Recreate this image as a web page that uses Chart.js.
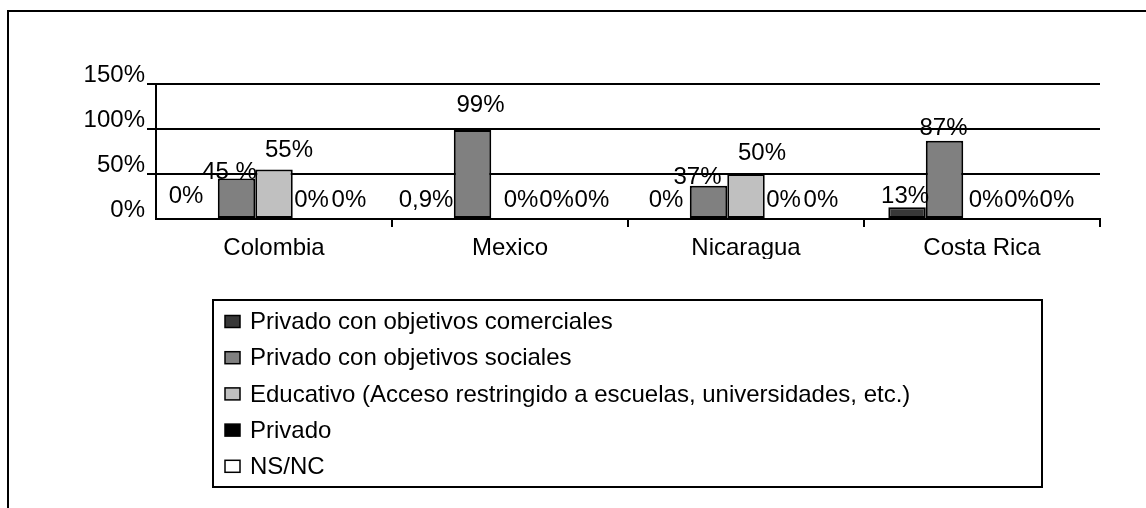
<!DOCTYPE html>
<html>
<head>
<meta charset="utf-8">
<script src="https://cdn.jsdelivr.net/npm/chart.js@4.4.1/dist/chart.umd.min.js"></script>
<style>
  html, body { margin: 0; padding: 0; background: #fff; }
  #wrap { width: 1146px; height: 508px; }
</style>
</head>
<body>
<div id="wrap"><canvas id="chart" width="1146" height="508"></canvas></div>
<script>
// categories and ticks
const countries = ['Colombia', 'Mexico', 'Nicaragua', 'Costa Rica'];
const yTicks = [0, 50, 100, 150];

// series (percent)
const seriesNames = [
    'Privado con objetivos comerciales',
    'Privado con objetivos sociales',
    'Educativo (Acceso restringido a escuelas, universidades, etc.)',
    'Privado',
    'NS/NC'
];
const comerciales = [0, 0.9, 0, 13];
const sociales    = [45, 99, 37, 87];
const educativo   = [55, 0, 50, 0];
const privado     = [0, 0, 0, 0];
const nsnc        = [0, 0, 0, 0];

// value labels as printed on the chart
const textComerciales = ['0%', '0,9%', '0%', '13%'];
const textSociales    = ['45 %', '99%', '37%', '87%'];
const textEducativo   = ['55%', '0%', '50%', '0%'];
const textPrivado     = ['0%', '0%', '0%', '0%'];
const textNsnc        = ['0%', '0%', '0%', '0%'];

const seriesColors = ['#383838', '#808080', '#c0c0c0', '#000000', '#ffffff'];

// hand-placed label nudges [dx, dy] keyed "category-series" (default [0, -12])
const labelNudge = {
    '0-0': [-13, -16], '0-1': [-7, 0],   '0-2': [15, -13],
    '1-0': [-9, -11],  '1-1': [8, -18],  '1-2': [11, -12], '1-3': [9, -12], '1-4': [7, -12],
    '2-0': [-5, -12],  '2-1': [-11, -2], '2-2': [16, -14],
    '3-0': [-2, -4],   '3-1': [-1, -6],  '3-2': [4, -12],  '3-3': [2, -12]
};

const FONT = "'Liberation Sans', Arial, sans-serif";
const SIZE = 24;

const values = [comerciales, sociales, educativo, privado, nsnc];
const texts  = [textComerciales, textSociales, textEducativo, textPrivado, textNsnc];

const frame = {
    id: 'frame',
    beforeDraw(chart) {
        const ctx = chart.ctx;
        ctx.save();
        ctx.fillStyle = '#fff';
        ctx.fillRect(0, 0, chart.width, chart.height);
        ctx.strokeStyle = '#000';
        ctx.lineWidth = 2;
        ctx.beginPath();
        ctx.moveTo(8, chart.height + 2);
        ctx.lineTo(8, 11);
        ctx.lineTo(chart.width + 2, 11);
        ctx.stroke();
        ctx.restore();
    }
};

const barLabels = {
    id: 'barLabels',
    afterDatasetsDraw(chart) {
        const ctx = chart.ctx;
        ctx.save();
        ctx.font = SIZE + 'px ' + FONT;
        ctx.fillStyle = '#000';
        ctx.textAlign = 'center';
        ctx.textBaseline = 'alphabetic';
        chart.data.datasets.forEach((ds, si) => {
            chart.getDatasetMeta(si).data.forEach((bar, ci) => {
                const n = labelNudge[ci + '-' + si] || [0, -12];
                ctx.fillText(ds.labelText[ci], bar.x + n[0], bar.y + n[1]);
            });
        });
        ctx.restore();
    }
};

const boxLegend = {
    id: 'boxLegend',
    afterDraw(chart) {
        const ctx = chart.ctx;
        const box = { left: 213, top: 300, right: 1042, bottom: 487 };
        ctx.save();
        ctx.strokeStyle = '#000';
        ctx.lineWidth = 2;
        ctx.strokeRect(box.left, box.top, box.right - box.left, box.bottom - box.top);
        ctx.font = SIZE + 'px ' + FONT;
        ctx.textAlign = 'left';
        ctx.textBaseline = 'middle';
        chart.data.datasets.forEach((ds, i) => {
            const cy = 321.5 + i * 36.2;
            ctx.fillStyle = ds.backgroundColor;
            ctx.fillRect(225, cy - 6, 15, 12);
            ctx.lineWidth = 1.5;
            ctx.strokeRect(225, cy - 6, 15, 12);
            ctx.fillStyle = '#000';
            ctx.fillText(ds.label, 250, cy + 1);
        });
        ctx.restore();
    }
};

new Chart(document.getElementById('chart'), {
    type: 'bar',
    data: {
        labels: countries,
        datasets: values.map((v, i) => ({
            label: seriesNames[i],
            data: v,
            labelText: texts[i],
            backgroundColor: seriesColors[i],
            borderColor: '#000',
            borderWidth: 2,
            borderSkipped: false,
            categoryPercentage: 0.794,
            barPercentage: 1
        }))
    },
    options: {
        responsive: false,
        animation: false,
        layout: { padding: { left: 0, top: 84, right: 46, bottom: 249 } },
        plugins: {
            legend: { display: false },
            tooltip: { enabled: false }
        },
        scales: {
            x: {
                afterFit: (scale) => { scale.height = 40; },
                grid: {
                    offset: true,
                    drawOnChartArea: false,
                    drawTicks: true,
                    tickLength: 8,
                    color: (c) => (c.index === 0 ? 'rgba(0,0,0,0)' : '#000'),
                    lineWidth: 2
                },
                border: { display: true, color: '#000', width: 2 },
                ticks: { color: '#000', font: { family: FONT, size: SIZE }, padding: 7 }
            },
            y: {
                min: 0,
                max: 150,
                afterFit: (scale) => { scale.width = 156; },
                afterBuildTicks: (scale) => { scale.ticks = yTicks.map(v => ({ value: v })); },
                grid: {
                    color: '#000',
                    lineWidth: 2,
                    tickLength: 9,
                    tickColor: (c) => (c.tick && c.tick.value === 0 ? 'rgba(0,0,0,0)' : '#000')
                },
                border: { display: true, color: '#000', width: 2 },
                ticks: {
                    color: '#000',
                    font: { family: FONT, size: SIZE },
                    padding: 2,
                    labelOffset: -9,
                    callback: (v) => v + '%'
                }
            }
        }
    },
    plugins: [frame, barLabels, boxLegend]
});
</script>
</body>
</html>
